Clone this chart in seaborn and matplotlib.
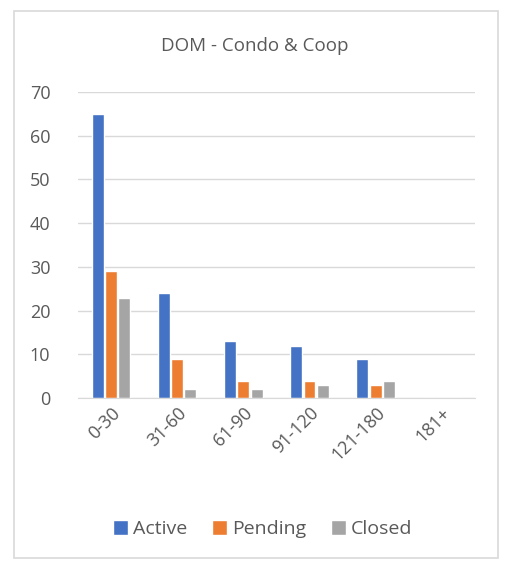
import numpy as np
import matplotlib.pyplot as plt
import seaborn as sns
import pandas as pd
from matplotlib.patches import Rectangle

# data
categories = ["0-30", "31-60", "61-90", "91-120", "121-180", "181+"]
active = [65, 24, 13, 12, 9, 0]
pending = [29, 9, 4, 4, 3, 0]
closed = [23, 2, 2, 3, 4, 0]
series = ["Active", "Pending", "Closed"]
colors = ["#4472C4", "#ED7D31", "#A5A5A5"]

df = pd.DataFrame({"DOM": categories * 3,
                   "Count": active + pending + closed,
                   "Status": np.repeat(series, len(categories))})

sns.set_style("white")
plt.rcParams["font.family"] = ["Open Sans", "DejaVu Sans"]
txt = "#595959"

fig = plt.figure(figsize=(5.1, 5.68), dpi=100)
ax = fig.add_axes([0.153, 0.299, 0.778, 0.539])

sns.barplot(data=df, x="DOM", y="Count", hue="Status", palette=colors,
            width=0.6, gap=0.1, ax=ax, legend=True, saturation=1)

ax.set_ylim(0, 70)
ax.set_yticks(range(0, 71, 10))
ax.set_xlim(-0.5, 5.5)
ax.grid(axis="y", color="#d9d9d9", linewidth=1)
ax.set_axisbelow(True)
for s in ["top", "right", "left"]:
    ax.spines[s].set_visible(False)
ax.spines["bottom"].set_color("#d9d9d9")
ax.tick_params(length=0, colors=txt, labelsize=13)
ax.tick_params(axis="y", pad=20)
ax.tick_params(axis="x", pad=4)
plt.setp(ax.get_xticklabels(), rotation=45, ha="right", rotation_mode="anchor")
ax.set_xlabel("")
ax.set_ylabel("")

ax.legend(loc="center", bbox_to_anchor=(0.515, 0.068), bbox_transform=fig.transFigure,
          ncol=3, frameon=False, fontsize=14, labelcolor=txt,
          handlelength=0.75, handleheight=0.75, handletextpad=0.25, columnspacing=1.3)

fig.text(0.5, 0.919, "DOM - Condo & Coop", ha="center", va="center", fontsize=13.5, color=txt)
fig.patches.append(Rectangle((0.027, 0.017), 0.949, 0.964, transform=fig.transFigure,
                             fill=False, edgecolor="#d9d9d9", linewidth=1.2))

plt.savefig("out.png", dpi=100)
